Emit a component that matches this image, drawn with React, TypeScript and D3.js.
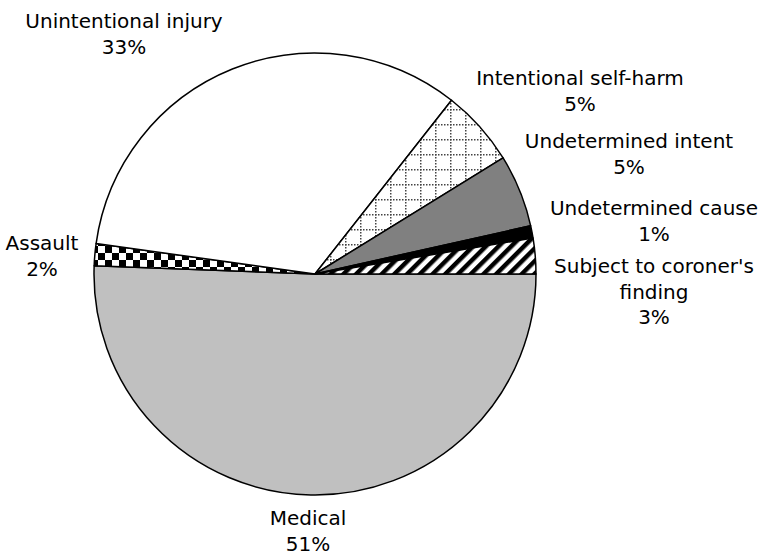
import React from "react";
import * as d3 from "d3";

const categories = [
  "Medical",
  "Assault",
  "Unintentional injury",
  "Intentional self-harm",
  "Undetermined intent",
  "Undetermined cause",
  "Subject to coroner's finding",
];
const values = [50.6, 1.6, 33.4, 5.6, 5.3, 0.9, 2.6];
const percentLabels = ["51%", "2%", "33%", "5%", "5%", "1%", "3%"];
const labelLines: string[][] = [
  ["Medical"],
  ["Assault"],
  ["Unintentional injury"],
  ["Intentional self-harm"],
  ["Undetermined intent"],
  ["Undetermined cause"],
  ["Subject to coroner's", "finding"],
];
const fills = [
  "#c0c0c0",
  "url(#checker)",
  "#ffffff",
  "url(#dotgrid)",
  "#808080",
  "#000000",
  "url(#stripes)",
];
// label anchor (center x, first baseline y)
const labelPos: [number, number][] = [
  [308, 525],
  [42, 250],
  [124, 28],
  [580, 85],
  [629, 148],
  [654, 215],
  [654, 273],
];

const W = 765;
const H = 556;
const cx = 315;
const cy = 274;
const R = 221;
const LINE = 25.5;

export default function App() {
  const data = categories.map((c, i) => ({ c, v: values[i], i }));
  const pie = d3
    .pie<{ c: string; v: number; i: number }>()
    .sort(null)
    .value((d) => d.v)
    .startAngle(Math.PI / 2)
    .endAngle(Math.PI / 2 + 2 * Math.PI);
  const arcs = pie(data);
  const arc = d3
    .arc<d3.PieArcDatum<{ c: string; v: number; i: number }>>()
    .innerRadius(0)
    .outerRadius(R);

  return (
    <svg
      width={W}
      height={H}
      style={{ position: "absolute", left: 0, top: 0, background: "#fff" }}
      fontFamily="'DejaVu Sans', Verdana, sans-serif"
    >
      <defs>
        <pattern id="checker" width={14} height={14} patternUnits="userSpaceOnUse">
          <rect width={14} height={14} fill="#fff" />
          <rect width={7} height={7} fill="#000" />
          <rect x={7} y={7} width={7} height={7} fill="#000" />
        </pattern>
        <pattern id="dotgrid" width={15} height={15} patternUnits="userSpaceOnUse">
          <rect width={15} height={15} fill="#fff" />
          <line x1={0} y1={0.75} x2={15} y2={0.75} stroke="#444" strokeWidth={1.5} strokeDasharray="1.5,1.5" />
          <line x1={0.75} y1={0} x2={0.75} y2={15} stroke="#444" strokeWidth={1.5} strokeDasharray="1.5,1.5" />
        </pattern>
        <pattern
          id="stripes"
          width={9}
          height={9}
          patternUnits="userSpaceOnUse"
          patternTransform="rotate(45)"
        >
          <rect width={9} height={9} fill="#fff" />
          <rect width={4.5} height={9} fill="#000" />
        </pattern>
      </defs>
      <rect width={W} height={H} fill="#fff" />
      <g transform={`translate(${cx},${cy})`}>
        {arcs.map((a, i) => (
          <path
            key={i}
            d={arc(a) || ""}
            fill={fills[i]}
            stroke="#000"
            strokeWidth={1.5}
            strokeLinejoin="round"
          />
        ))}
      </g>
      {categories.map((c, i) => {
        const [x, y] = labelPos[i];
        const lines = [...labelLines[i], percentLabels[i]];
        return (
          <text key={c} x={x} y={y} fontSize={20} textAnchor="middle" fill="#000">
            {lines.map((l, j) => (
              <tspan key={j} x={x} y={y + j * LINE}>
                {l}
              </tspan>
            ))}
          </text>
        );
      })}
    </svg>
  );
}
